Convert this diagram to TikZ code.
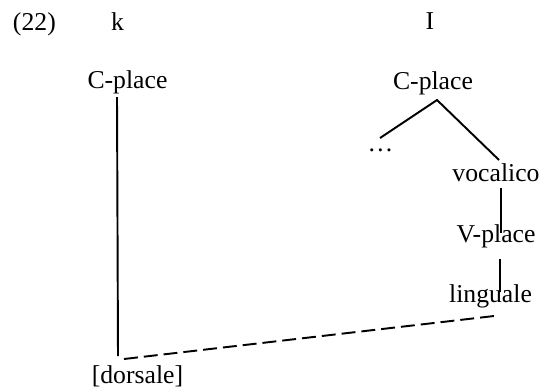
\documentclass[tikz,border=0pt]{standalone}
\usepackage{fontspec}
\setmainfont{Liberation Serif}
\usetikzlibrary{calc}

\tikzset{
  feat/.style={inner sep=0pt, outer sep=0pt, anchor=base},
  assoc/.style={line width=0.9pt},
  delink/.style={line width=0.9pt, dash pattern=on 6.5pt off 2.8pt}
}

\begin{document}
\begin{tikzpicture}[x=0.467pt, y=-0.467pt, font=\fontsize{12}{14}\selectfont]
\useasboundingbox (0,0) rectangle (541,390);

% Example number and segments
\node[feat, anchor=base west] (num) at (13,30) {(22)};
\node[feat] (segk) at (117.5,30) {k};
\node[feat] (segI) at (430,29) {I};

% Left tree (k)
\node[feat] (cpL) at (127.5,88) {C-place};
\node[feat] (dor) at (137.5,383) {[dorsale]};

% Right tree (I)
\node[feat] (cpR) at (433,89) {C-place};
\node[feat] (dots) at (380.5,151) {…};
\node[feat] (voc) at (496,181) {vocalico};
\node[feat] (vpl) at (496,242) {V-place};
\node[feat] (lin) at (490.5,302) {linguale};

% Association lines
\draw[assoc] ($(cpL.base)+(-10.5,9)$) -- ($(dor.base)+(-19.5,-27)$);
\draw[assoc] ($(dots.base)+(-0.5,-13)$) -- ($(cpR.base)+(4,11)$) -- ($(voc.base)+(3,-21)$);
\draw[assoc] ($(voc.base)+(5,7)$) -- ($(vpl.base)+(5,-9)$);
\draw[assoc] ($(vpl.base)+(4,17)$) -- ($(lin.base)+(9.5,-10)$);

% Spreading (dashed)
\draw[delink] ($(dor.base)+(-13.5,-24)$) -- ($(lin.base)+(3.5,14)$);

\end{tikzpicture}
\end{document}
